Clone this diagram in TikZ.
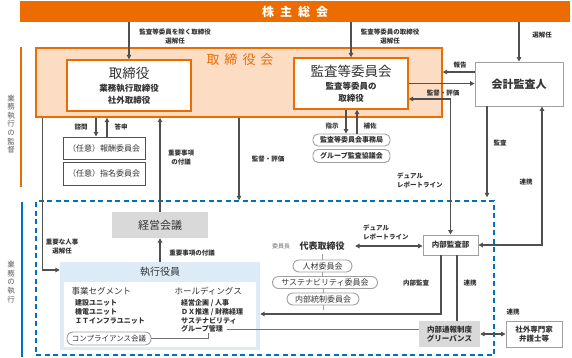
\documentclass[tikz,border=0pt]{standalone}
\usepackage{fontspec}
\setmainfont{Noto Sans CJK JP}
\usepackage{tikz}
\usetikzlibrary{arrows.meta,positioning,calc}
\usepackage{xcolor}
\definecolor{cOrange}{RGB}{237,108,0}
\definecolor{cPeach}{RGB}{252,221,195}
\definecolor{cDark}{RGB}{80,80,80}
\definecolor{cText}{RGB}{51,51,51}
\definecolor{cGrayLine}{RGB}{160,160,160}
\definecolor{cGrayFill}{RGB}{217,217,217}
\definecolor{cBlue}{RGB}{0,112,192}
\definecolor{cLightBlue}{RGB}{221,235,247}
\newcommand{\bigttl}{\fontsize{13.5}{17}\selectfont}
\newcommand{\subttl}{\fontsize{8.5}{10.5}\selectfont\bfseries}

\begin{document}
\begin{tikzpicture}[x=1pt,y=-1pt,
  arr/.style={-{Triangle[length=4.5pt,width=4.5pt]},line width=1.4pt,draw=cDark},
  arrboth/.style={{Triangle[length=4.5pt,width=4.5pt]}-{Triangle[length=4.5pt,width=4.5pt]},line width=1.4pt,draw=cDark},
  lbl/.style={font=\fontsize{6.5}{9}\selectfont\bfseries,text=cText,align=center,inner sep=0pt},
  gbox/.style={draw=cGrayLine,line width=0.9pt,fill=white,align=center,inner sep=0pt,text=cText},
  rbox/.style={gbox,rounded corners=5pt,font=\fontsize{8}{9}\selectfont},
  obox/.style={draw=cOrange,line width=1.4pt,fill=white,align=center,inner sep=0pt,text=cText},
  kbox/.style={draw=cDark,line width=1pt,fill=white,inner sep=0pt,text=cText,font=\fontsize{8}{9}\selectfont},
  itm/.style={inner sep=0pt,align=left,text=cText,font=\fontsize{7}{9}\selectfont\bfseries},
  vtext/.style={align=center,text=cText!80,font=\fontsize{7.5}{8.6}\selectfont}]
  \useasboundingbox (0,0) rectangle (572,357);
  % Side labels
  \draw[cOrange,line width=1.5pt] (21,47) -- (21,187);
  \node[vtext] (kantoku) at (11,124) {業\\務\\執\\行\\の\\監\\督};
  \draw[cBlue,line width=1.5pt] (22,202) -- (22,357);
  \node[vtext] (shikkolbl) at (11,282) {業\\務\\の\\執\\行};
  % Shareholders
  \node[fill=cOrange,minimum width=550pt,minimum height=21pt,text=white,
    font=\fontsize{12}{14}\selectfont\bfseries] (sh) at (295,11.5)
    {株\hspace{6pt}主\hspace{6pt}総\hspace{6pt}会};
  % Board
  \node[draw=cOrange,line width=1.4pt,fill=cPeach,minimum width=406pt,minimum height=69pt] (board) at (239,82.5) {};
  \node[text=cOrange,font=\fontsize{13}{15}\selectfont] (boardttl) at (240,60)
    {取\hspace{5pt}締\hspace{5pt}役\hspace{5pt}会};
  \node[obox,minimum width=124pt,minimum height=51pt] (tori) at (129,85.5)
    {{\bigttl 取締役}\\[1pt]{\subttl 業務執行取締役}\\{\subttl 社外取締役}};
  \node[obox,minimum width=114pt,minimum height=51pt] (kansa) at (351,83.5)
    {{\bigttl 監査等委員会}\\[1pt]{\subttl 監査等委員の}\\{\subttl 取締役}};
  \node[gbox,minimum width=88pt,minimum height=44pt,font=\fontsize{11}{13}\selectfont\bfseries] (kaikei) at (519,84) {会計監査人};
  % Committees
  \node[kbox,minimum width=82pt,minimum height=22pt] (hoshu) at (104,148) {（任意）報酬委員会};
  \node[kbox,minimum width=82pt,minimum height=23pt] (shimei) at (104,173.5) {（任意）指名委員会};
  \node[rbox,minimum width=77pt,minimum height=12pt,font=\fontsize{7}{8}\selectfont\bfseries] (jimu) at (351.5,140) {監査等委員会事務局};
  \node[rbox,minimum width=77pt,minimum height=13pt,font=\fontsize{7}{8}\selectfont\bfseries] (gkansa) at (351.5,156) {グループ監査協議会};
  % Execution area
  \node[draw=cBlue,dash pattern=on 5pt off 3.5pt,line width=1.4pt,minimum width=458pt,minimum height=154pt] (gyomu) at (265,278) {};
  \node[fill=cGrayFill,minimum width=96pt,minimum height=26pt,text=cText,font=\fontsize{11}{13}\selectfont] (keiei) at (160,225) {経営会議};
  \node[fill=cLightBlue,minimum width=200pt,minimum height=88pt] (shikko) at (160,306) {};
  \node[text=cText,font=\fontsize{10}{12}\selectfont] (shikkottl) at (160,272) {執行役員};
  \node[fill=white,minimum width=192pt,minimum height=65pt] (shikkoin) at (160,314.5) {};
  \node[anchor=west,text=cText,font=\fontsize{8.5}{10}\selectfont] (seg) at (68,291) {事業セグメント};
  \node[itm,anchor=north west] (seglist) at (75,299.5) {建設ユニット\\機電ユニット\\ＩＴインフラユニット};
  \node[anchor=west,text=cText,font=\fontsize{8.5}{10}\selectfont] (hd) at (171,291) {ホールディングス};
  \node[itm,anchor=north west] (hdlist) at (181,299.5) {経営企画 / 人事\\ＤＸ推進 / 財務経理\\サステナビリティ};
  \node[itm,anchor=west] (gkanri) at (181,329) {グループ管理};
  \node[rbox,minimum width=84pt,minimum height=13pt,rounded corners=6pt,font=\fontsize{7.5}{9}\selectfont] (comp) at (109,338.5) {コンプライアンス会議};
  % Internal audit
  \node[gbox,minimum width=55pt,minimum height=20pt,font=\fontsize{7.5}{9}\selectfont\bfseries] (naibu) at (450.5,245) {内部監査部};
  \node[fill=cGrayFill,minimum width=61pt,minimum height=26pt,align=center,text=cText,
    font=\fontsize{7.5}{9.5}\selectfont\bfseries] (tsuho) at (449.5,334) {内部通報制度\\グリーバンス};
  \node[gbox,minimum width=56pt,minimum height=26pt,font=\fontsize{7.5}{9.5}\selectfont\bfseries] (gaibu) at (534,334) {社外専門家\\弁護士等};
  % Representative director
  \node[text=cText,font=\fontsize{9}{11}\selectfont\bfseries] (daihyo) at (322,246) {代表取締役};
  \node[text=cText!70,font=\fontsize{6}{7}\selectfont] (iincho) at (281,246) {委員長};
  \node[rbox,minimum width=59pt,minimum height=12pt,rounded corners=6pt] (jinzai) at (322.5,266) {人材委員会};
  \node[rbox,minimum width=105pt,minimum height=12pt,rounded corners=6pt] (susiin) at (325,282.5) {サステナビリティ委員会};
  \node[rbox,minimum width=72pt,minimum height=12pt,rounded corners=6pt] (naitosei) at (323,299) {内部統制委員会};
  \coordinate (iinend) at (323,310);
  \draw[cGrayLine,line width=0.6pt] (jinzai.north |- daihyo.south) -- (jinzai.north)
    (jinzai.south) -- (jinzai.south |- susiin.north)
    (naitosei.north |- susiin.south) -- (naitosei.north)
    (naitosei.south) -- (iinend);
  % Appointments
  \draw[arr] (tori.north |- sh.south) -- (tori.north);
  \draw[arr] (kansa.north |- sh.south) -- (kansa.north);
  \draw[arr] (kaikei.north |- sh.south) -- (kaikei.north);
  % Board and auditors
  \draw[arr] ([yshift=12pt]kaikei.west) -- ([yshift=12pt]kaikei.west -| board.east);
  \draw[arr] (kansa.east) -- (kansa.east -| kaikei.west);
  \draw[arrboth] ([yshift=-15.5pt]kansa.east) -| (naibu.north);
  \draw[arr,shorten >=3pt] ([xshift=-32pt]kaikei.south) -- ([xshift=-32pt]kaikei.south |- gyomu.north);
  \draw[arrboth] (naibu.east) -| ([xshift=23pt]kaikei.south);
  % Board downward
  \draw[arr] ([xshift=7pt]board.south west) |- ([yshift=36pt]shikko.west);
  \draw[arr] ([xshift=-8pt]hoshu.north |- board.south) -- ([xshift=-8pt]hoshu.north);
  \draw[arr] ([xshift=3pt]hoshu.north) -- ([xshift=3pt]hoshu.north |- board.south);
  \draw[arr] (keiei.north) -- (keiei.north |- board.south);
  \draw[arr] (board.south) -- (board.south |- gyomu.north);
  \draw[arr] ([xshift=-5pt]kansa.south) -- ([xshift=-5pt]kansa.south |- jimu.north);
  \draw[arr] ([xshift=6pt]kansa.south |- jimu.north) -- ([xshift=6pt]kansa.south);
  % Execution
  \draw[arr] (shikko.north) -- (keiei.south);
  \draw[arrboth,shorten <=7pt] (daihyo.east) -- (daihyo.east -| naibu.west);
  \draw[arr] ([xshift=-9.5pt]naibu.south) |- ([yshift=-8pt]shikko.east);
  \draw[cDark,line width=1.2pt] ([xshift=6.5pt]naibu.south) -- ([xshift=6.5pt]naibu.south |- tsuho.north);
  \draw[arrboth] (tsuho.east) -- (gaibu.west);
  \draw[cDark!80,line width=1pt,shorten <=4pt] (gkanri.east) -- (gkanri.east -| tsuho.west);
  \draw[cDark!80,line width=1pt] (comp.east) -| ([xshift=7pt]gkanri.south);
  % Labels
  \node[lbl] (lblA) at (175,36.5) {監査等委員を除く取締役\\選解任};
  \node[lbl] (lblB) at (390,36.5) {監査等委員の取締役\\選解任};
  \node[lbl] (lblC) at (542,35) {選解任};
  \node[lbl] (lblD) at (460,65) {報告};
  \node[lbl] (lblE) at (443,93) {監督・評価};
  \node[lbl,align=left,anchor=west] (lblF) at (397,180.5) {デュアル\\レポートライン};
  \node[lbl] (lblG) at (500,143) {監査};
  \node[lbl] (lblH) at (526,182) {連携};
  \node[lbl] (lblI) at (81,127) {諮問};
  \node[lbl] (lblJ) at (121,127) {答申};
  \node[lbl] (lblK) at (181,158) {重要事項\\の付議};
  \node[lbl] (lblL) at (268,159) {監督・評価};
  \node[lbl] (lblM) at (332,126) {指示};
  \node[lbl] (lblN) at (370,126) {補佐};
  \node[lbl] (lblO) at (62,247) {重要な人事\\選解任};
  \node[lbl] (lblP) at (192,253) {重要事項の付議};
  \node[lbl,align=left,anchor=west] (lblQ) at (363,232) {デュアル\\レポートライン};
  \node[lbl] (lblR) at (416,283) {内部監査};
  \node[lbl] (lblS) at (470,283) {連携};
  \node[lbl] (lblT) at (513,312) {連携};
\end{tikzpicture}
\end{document}
